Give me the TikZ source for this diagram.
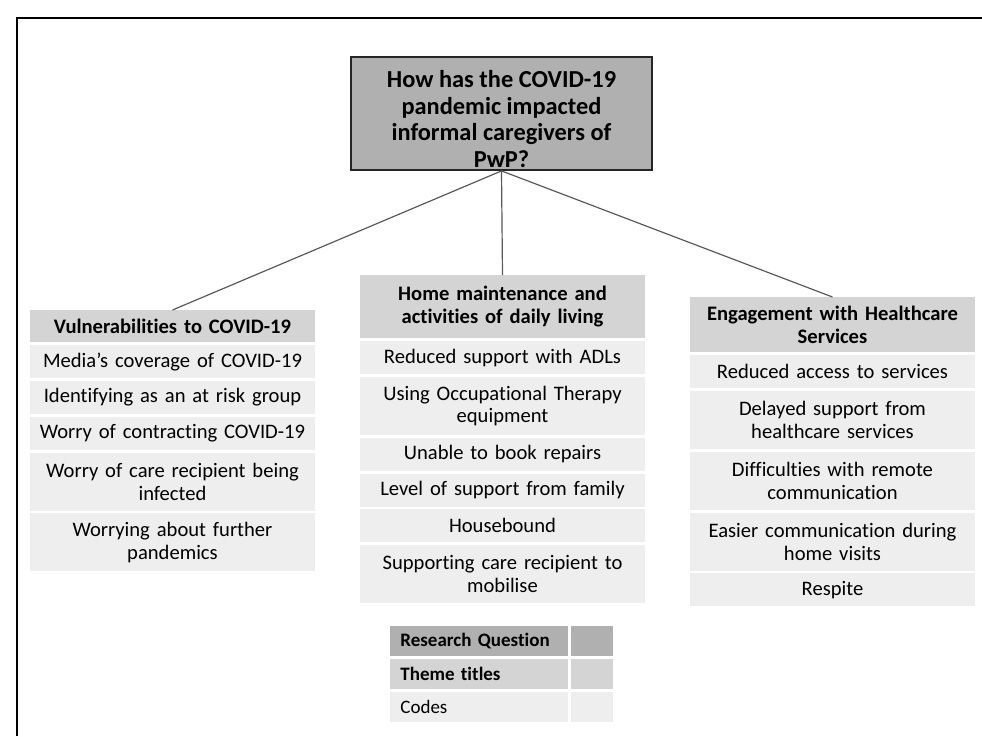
\documentclass[tikz,border=0pt]{standalone}
\usepackage{fontspec}
\setmainfont[Ligatures=NoCommon]{Carlito}
\usetikzlibrary{positioning}
\definecolor{qgray}{RGB}{176,176,176}
\definecolor{tgray}{RGB}{212,212,212}
\definecolor{cgray}{RGB}{238,238,238}
\tikzset{
  question/.style={draw=black!85, line width=0.9pt, fill=qgray, minimum width=150.5pt, minimum height=56.5pt},
  qtext/.style={align=center, yshift=-2.8pt, font=\fontsize{12.2}{13.3}\selectfont\bfseries},
  theme/.style={fill=tgray, text width=138.5pt, inner xsep=2pt, inner ysep=0pt, align=center, anchor=north, font=\fontsize{10.3}{11.4}\selectfont\bfseries},
  code/.style={fill=cgray, text width=138.5pt, inner xsep=2pt, inner ysep=0pt, minimum height=16.5pt, align=center, font=\fontsize{10.3}{11.4}\selectfont},
  codetwo/.style={code, minimum height=29pt},
  link/.style={draw=black!65, line width=0.6pt},
  key/.style={inner ysep=0pt, minimum height=15pt, font=\fontsize{9.5}{11}\selectfont}
}
\begin{document}
\begin{tikzpicture}[x=0.5pt,y=-0.5pt]
\useasboundingbox (0,0) rectangle (982,736);
\draw[line width=1.1pt] (17,736) -- (17,18) -- (982,18);
% research question
\node[question, label={[qtext]center:How has the COVID-19\\pandemic impacted\\informal caregivers of\\PwP?}] (rq) at (501.5,113.5) {};
% theme 1
\node[theme, minimum height=16pt] (t1) at (172.5,310) {Vulnerabilities to COVID-19};
\node[code, below=1pt of t1] (a1) {Media’s coverage of COVID-19};
\node[code, below=1pt of a1] (a2) {Identifying as an at risk group};
\node[code, below=1pt of a2] (a3) {Worry of contracting COVID-19};
\node[codetwo, below=1pt of a3] (a4) {Worry of care recipient being\\infected};
\node[codetwo, below=1pt of a4] (a5) {Worrying about further\\pandemics};
% theme 2
\node[theme, minimum height=31.5pt] (t2) at (502.5,275) {Home maintenance and\\activities of daily living};
\node[code, below=1pt of t2] (b1) {Reduced support with ADLs};
\node[codetwo, below=1pt of b1] (b2) {Using Occupational Therapy\\equipment};
\node[code, below=1pt of b2] (b3) {Unable to book repairs};
\node[code, below=1pt of b3] (b4) {Level of support from family};
\node[code, below=1pt of b4] (b5) {Housebound};
\node[codetwo, below=1pt of b5] (b6) {Supporting care recipient to\\mobilise};
% theme 3
\node[theme, minimum height=27.5pt] (t3) at (832.5,297) {Engagement with Healthcare\\Services};
\node[code, below=1pt of t3] (c1) {Reduced access to services};
\node[codetwo, below=1pt of c1] (c2) {Delayed support from\\healthcare services};
\node[codetwo, below=1pt of c2] (c3) {Difficulties with remote\\communication};
\node[codetwo, below=1pt of c3] (c4) {Easier communication during\\home visits};
\node[code, below=1pt of c4] (c5) {Respite};
\draw[link] (rq.south) -- (t1.north);
\draw[link] (rq.south) -- (t2.north);
\draw[link] (rq.south) -- (t3.north);
% legend
\node[key, fill=qgray, text width=79pt, inner xsep=5pt, align=left, anchor=north west] (k1) at (390,626) {\bfseries Research Question};
\node[key, fill=qgray, minimum width=21pt, right=1pt of k1] (k1b) {};
\node[key, fill=tgray, text width=79pt, inner xsep=5pt, align=left, below=1pt of k1] (k2) {\bfseries Theme titles};
\node[key, fill=tgray, minimum width=21pt, right=1pt of k2] (k2b) {};
\node[key, fill=cgray, text width=79pt, inner xsep=5pt, align=left, below=1pt of k2] (k3) {Codes};
\node[key, fill=cgray, minimum width=21pt, right=1pt of k3] (k3b) {};
\end{tikzpicture}
\end{document}
